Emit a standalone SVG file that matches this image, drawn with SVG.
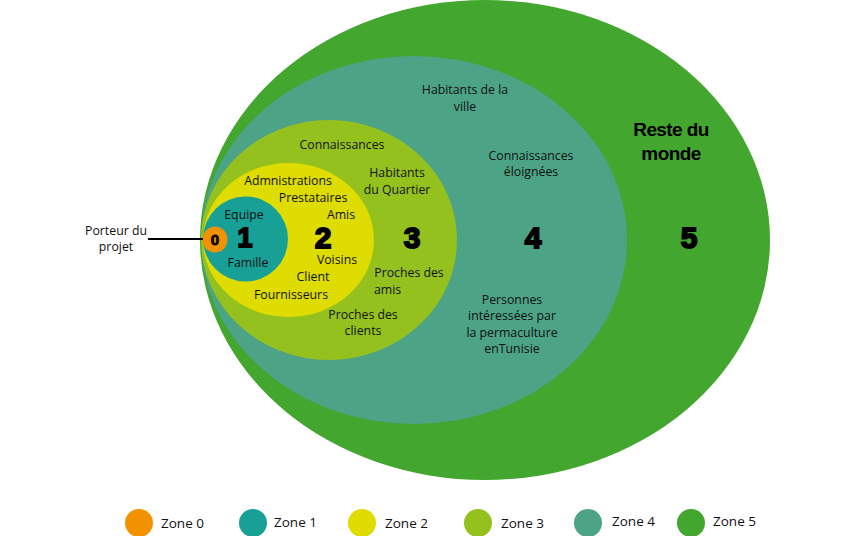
<svg xmlns="http://www.w3.org/2000/svg" width="842" height="536" viewBox="0 0 842 536">
<style>
.t{font-family:"Open Sans","Liberation Sans",sans-serif;font-size:12.3px;fill:#111;text-anchor:middle}
.d{font-family:"Liberation Sans","DejaVu Sans",sans-serif;font-weight:bold;font-size:30px;fill:#000;stroke:#000;stroke-width:1.8;text-anchor:middle}
.b{font-family:"Liberation Sans","DejaVu Sans",sans-serif;font-weight:bold;font-size:19px;fill:#000;text-anchor:middle;letter-spacing:-0.6px}
.l{font-family:"Open Sans","Liberation Sans",sans-serif;font-size:13.5px;fill:#111}
</style>
<rect width="842" height="536" fill="#fff"/>
<g id="zone5">
<ellipse cx="485" cy="240" rx="285" ry="240" fill="#43a62e"/>
<text class="b" x="671" y="136">Reste du</text>
<text class="b" x="671" y="160">monde</text>
<text class="d" x="689" y="248">5</text>
</g>
<g id="zone4">
<ellipse cx="414" cy="240" rx="213" ry="184" fill="#4ca385"/>
<text class="t" x="465" y="94">Habitants de la</text>
<text class="t" x="465" y="111">ville</text>
<text class="t" x="531" y="160">Connaissances</text>
<text class="t" x="531" y="176">éloignées</text>
<text class="d" x="533" y="248">4</text>
<text class="t" x="512" y="304">Personnes</text>
<text class="t" x="512" y="320">intéressées par</text>
<text class="t" x="512" y="337">la permaculture</text>
<text class="t" x="512" y="353">enTunisie</text>
</g>
<g id="zone3">
<ellipse cx="329" cy="240" rx="128" ry="120" fill="#95c11f"/>
<text class="t" x="342" y="149">Connaissances</text>
<text class="t" x="397" y="177">Habitants</text>
<text class="t" x="397" y="194">du Quartier</text>
<text class="d" x="412" y="248">3</text>
<text class="t" x="409" y="277">Proches des</text>
<text class="t" x="374" y="294" style="text-anchor:start">amis</text>
<text class="t" x="363" y="319">Proches des</text>
<text class="t" x="363" y="335">clients</text>
</g>
<g id="zone2">
<ellipse cx="288.5" cy="240" rx="85.5" ry="77" fill="#dedc00"/>
<text class="t" x="288" y="185">Admnistrations</text>
<text class="t" x="313" y="202">Prestataires</text>
<text class="t" x="341" y="219">Amis</text>
<text class="d" x="323" y="248">2</text>
<text class="t" x="337" y="264">Voisins</text>
<text class="t" x="313" y="281">Client</text>
<text class="t" x="291" y="299">Fournisseurs</text>
</g>
<g id="zone1">
<ellipse cx="245.5" cy="239" rx="42.5" ry="42.5" fill="#18a096"/>
<text class="t" x="244" y="219">Equipe</text>
<text class="d" x="245" y="247" style="font-size:27px">1</text>
<text class="t" x="248" y="267">Famille</text>
</g>
<g id="zone0">
<ellipse cx="215" cy="239.5" rx="12.5" ry="13" fill="#f39200"/>
<text class="d" x="215" y="245" style="font-size:15px;stroke-width:0.8">0</text>
</g>
<g id="porteur">
<text class="t" x="116" y="235">Porteur du</text>
<text class="t" x="116" y="251">projet</text>
</g>
<g id="connectors">
<line x1="148" y1="239" x2="203" y2="239" stroke="#000" stroke-width="2"/>
</g>
<g id="legend">
<circle cx="139" cy="523" r="14" fill="#f39200"/>
<text class="l" x="161" y="528">Zone 0</text>
<circle cx="253" cy="523" r="14" fill="#18a096"/>
<text class="l" x="274" y="527">Zone 1</text>
<circle cx="362" cy="523" r="14" fill="#dedc00"/>
<text class="l" x="385" y="528">Zone 2</text>
<circle cx="478" cy="523" r="14" fill="#95c11f"/>
<text class="l" x="501" y="528">Zone 3</text>
<circle cx="588" cy="523" r="14" fill="#4ca385"/>
<text class="l" x="612" y="526">Zone 4</text>
<circle cx="691" cy="523" r="14" fill="#43a62e"/>
<text class="l" x="713" y="526">Zone 5</text>
</g>
</svg>
